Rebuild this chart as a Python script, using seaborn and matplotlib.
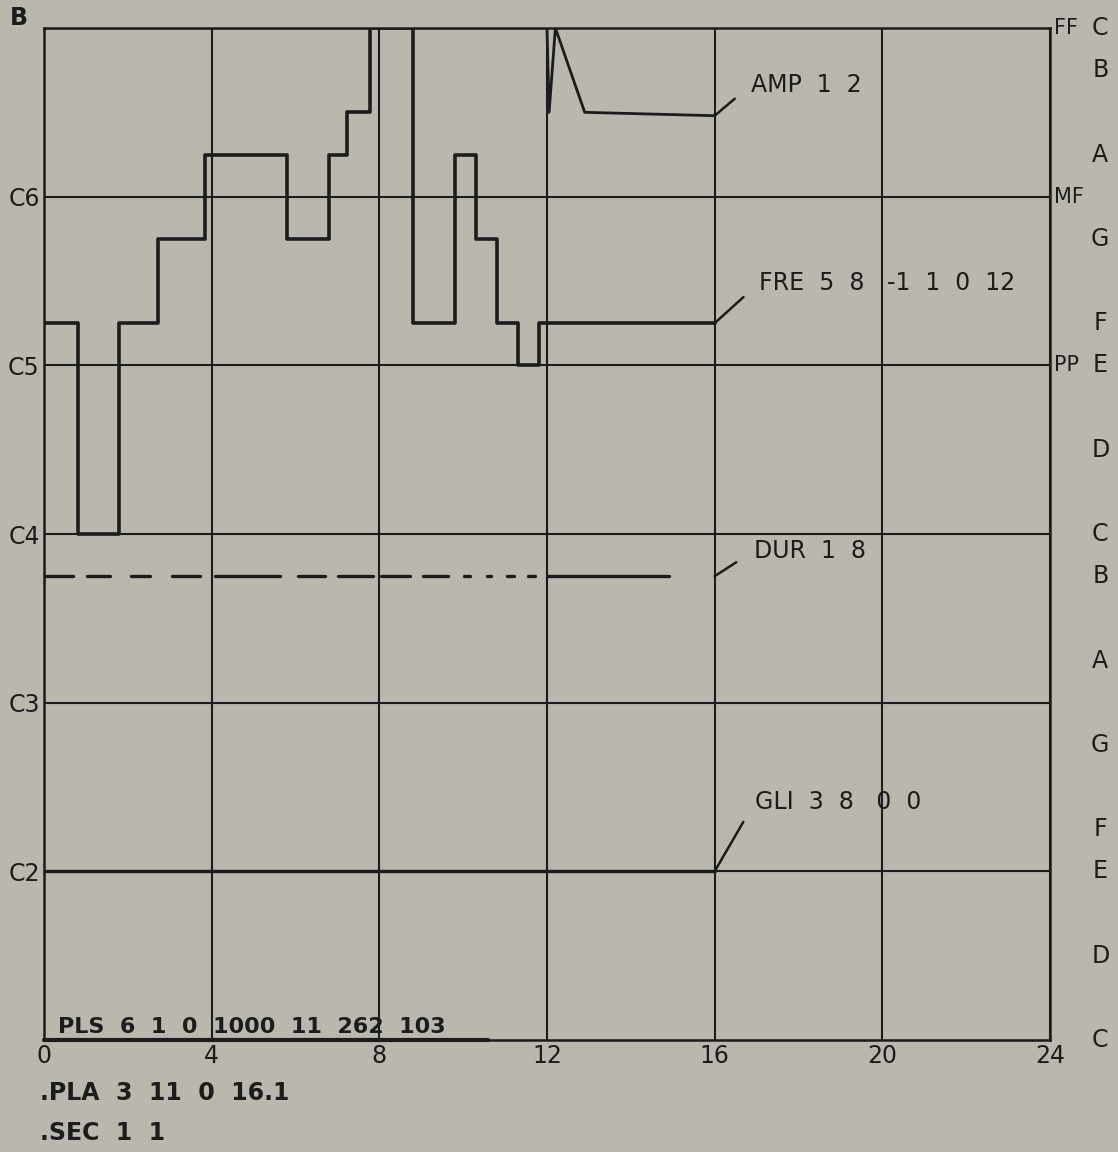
import numpy as np
import pandas as pd
import seaborn as sns
import matplotlib.pyplot as plt

# section data (time in beats, pitch in octave units: 4 = C5, 5 = C6)
fre_t = [0, 0.82, 1.8, 2.73, 3.83, 5.8, 6.8, 7.23, 7.78, 8.8, 9.8, 10.3, 10.8, 11.3, 11.8, 16]
fre_v = [4.25, 3.0, 4.25, 4.75, 5.25, 4.75, 5.25, 5.5, 6.0, 4.25, 5.25, 4.75, 4.25, 4.0, 4.25, 4.25]

amp_t = [0, 12.0, 12.05, 12.2, 12.9, 16]
amp_v = [6.0, 6.0, 5.5, 6.0, 5.5, 5.48]

dur_start = [0.0, 1.02, 2.07, 3.06, 4.09, 6.06, 7.01, 8.05, 9.03, 10.02, 10.57, 11.05, 11.54, 12.02]
dur_end = [0.69, 1.57, 2.54, 3.73, 5.63, 6.70, 7.84, 8.72, 9.64, 10.17, 10.67, 11.21, 11.71, 14.9]
dur_level = 2.75

gli_t = [0, 16]
gli_v = [1.0, 1.0]

pls_t = [0, 10.6]
pls_v = [0.0, 0.0]

section_end = 16

x_ticks = [0, 4, 8, 12, 16, 20, 24]
left_ticks = [1, 2, 3, 4, 5]
left_labels = ['C2', 'C3', 'C4', 'C5', 'C6']
dyn_labels = ['PP', 'MF', 'FF']
dyn_pos = [4, 5, 6]
note_names = ['C', 'D', 'E', 'F', 'G', 'A', 'B', 'C', 'D', 'E', 'F', 'G', 'A', 'B', 'C']
note_semis = [0, 2, 4, 5, 7, 9, 11, 12, 14, 16, 17, 19, 21, 23, 24]

bg = '#b9b7ae'
ink = '#1c1c1c'

sns.set_style('white', {'axes.facecolor': bg, 'figure.facecolor': bg,
                        'axes.edgecolor': ink, 'grid.color': ink})
plt.rcParams['font.family'] = ['DejaVu Sans']

fig = plt.figure(figsize=(11.18, 11.52), dpi=100)
ax = fig.add_axes([44 / 1118, 1 - 1040 / 1152, 1006 / 1118, 1012 / 1152])

fre = pd.DataFrame({'t': fre_t, 'v': fre_v})
amp = pd.DataFrame({'t': amp_t, 'v': amp_v})
gli = pd.DataFrame({'t': gli_t, 'v': gli_v})
pls = pd.DataFrame({'t': pls_t, 'v': pls_v})
dur = pd.DataFrame({'t': dur_start + dur_end,
                    'v': [dur_level] * (2 * len(dur_start)),
                    'seg': list(range(len(dur_start))) * 2})

sns.lineplot(data=fre, x='t', y='v', ax=ax, color=ink, lw=2.6, sort=False,
             estimator=None, drawstyle='steps-post', zorder=5)
sns.lineplot(data=amp, x='t', y='v', ax=ax, color=ink, lw=2.0, sort=False,
             estimator=None, zorder=5)
sns.lineplot(data=dur, x='t', y='v', units='seg', ax=ax, color=ink, lw=2.4,
             estimator=None, zorder=5, solid_capstyle='round')
sns.lineplot(data=gli, x='t', y='v', ax=ax, color=ink, lw=2.4, estimator=None, zorder=5)
sns.lineplot(data=pls, x='t', y='v', ax=ax, color=ink, lw=3.0, estimator=None,
             zorder=5, clip_on=False)

ax.set_xlim(0, 24)
ax.set_ylim(0, 6)
ax.set_xticks(x_ticks)
ax.set_xticklabels([str(v) for v in x_ticks], fontsize=17)
ax.set_yticks(left_ticks)
ax.set_yticklabels(left_labels, fontsize=17)
ax.tick_params(length=0, pad=3, colors=ink)
ax.set_xlabel('')
ax.set_ylabel('')
ax.grid(True, color=ink, lw=1.5)
ax.set_axisbelow(True)
for s in ax.spines.values():
    s.set_linewidth(1.8)
    s.set_color(ink)

fs = 17
ax.text(-0.6, 6.06, 'B', fontsize=fs, color=ink, ha='center', va='center',
        fontweight='bold', clip_on=False)
for lab, p in zip(dyn_labels, dyn_pos):
    ax.text(24.1, p, lab, fontsize=15, color=ink, ha='left', va='center')
for n, s in zip(note_names, note_semis):
    ax.text(25.2, s / 4, n, fontsize=fs, color=ink, ha='center', va='center')

ann = dict(fontsize=fs, color=ink, ha='left', va='center', textcoords='offset points')
arrow = dict(arrowstyle='-', color=ink, lw=1.8, shrinkA=12, shrinkB=0, relpos=(0, 0.5))
ax.annotate('AMP  1  2', xy=(amp_t[-1], amp_v[-1]), xytext=(26, 22), arrowprops=arrow, **ann)
ax.annotate('FRE  5  8   -1  1  0  12', xy=(fre_t[-1], fre_v[-1]), xytext=(32, 29),
            arrowprops=arrow, **ann)
ax.annotate('DUR  1  8', xy=(section_end, dur_level), xytext=(28, 18), arrowprops=arrow, **ann)
ax.annotate('GLI  3  8   0  0', xy=(gli_t[-1], gli_v[-1]), xytext=(29, 50), arrowprops=arrow, **ann)

ax.text(0.33, 0.08, 'PLS  6  1  0  1000  11  262  103', fontsize=16, color=ink,
        ha='left', va='center', fontweight='bold', zorder=6)
fig.text(40 / 1118, 1 - 1093 / 1152, '.PLA  3  11  0  16.1', fontsize=fs, color=ink,
         ha='left', va='center', fontweight='bold')
fig.text(40 / 1118, 1 - 1133 / 1152, '.SEC  1  1', fontsize=fs, color=ink,
         ha='left', va='center', fontweight='bold')

fig.savefig('out.png', dpi=100, facecolor=bg)
